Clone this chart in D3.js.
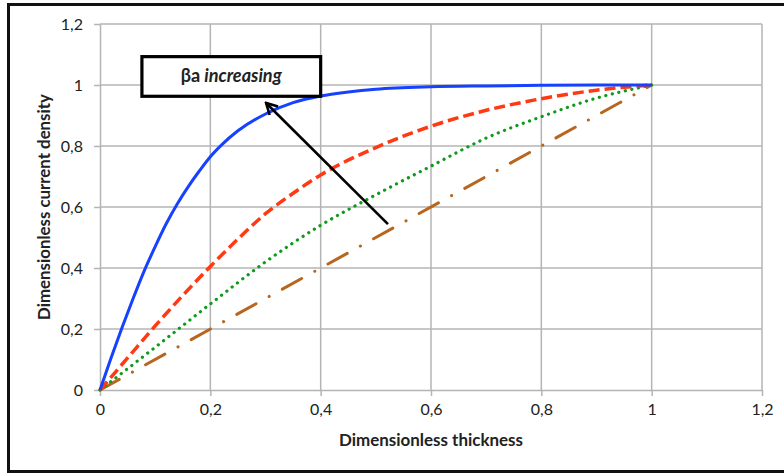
<!DOCTYPE html>
<html>
<head>
<meta charset="utf-8">
<script src="https://cdn.jsdelivr.net/npm/d3@7"></script>
<style>
  html, body { margin: 0; padding: 0; background: #fff; }
  svg { display: block; }
  text { font-family: Lato, "Open Sans", sans-serif; fill: #222; }
</style>
</head>
<body>
<svg id="chart" width="784" height="474"></svg>
<script>
// ---- data ----
const xTickValues = [0, 0.2, 0.4, 0.6, 0.8, 1, 1.2];
const xTickLabels = ["0", "0,2", "0,4", "0,6", "0,8", "1", "1,2"];
const yTickValues = [0, 0.2, 0.4, 0.6, 0.8, 1, 1.2];
const yTickLabels = ["0", "0,2", "0,4", "0,6", "0,8", "1", "1,2"];

const blueX = [0, 0.02, 0.04, 0.06, 0.08, 0.1, 0.12, 0.14, 0.16, 0.18, 0.2, 0.22, 0.25, 0.3, 0.35, 0.4, 0.45, 0.5, 0.6, 0.7, 0.8, 0.9, 1];
const blueY = [0, 0.105, 0.205, 0.3, 0.39, 0.47, 0.545, 0.61, 0.667, 0.718, 0.765, 0.803, 0.85, 0.905, 0.942, 0.964, 0.977, 0.986, 0.994, 0.997, 0.999, 1, 1];

const redX = [0, 0.05, 0.1, 0.15, 0.2, 0.25, 0.3, 0.35, 0.4, 0.5, 0.6, 0.7, 0.8, 0.9, 1];
const redY = [0, 0.105, 0.21, 0.31, 0.405, 0.495, 0.578, 0.645, 0.705, 0.795, 0.865, 0.917, 0.955, 0.983, 1];

const greenX = [0, 0.1, 0.2, 0.3, 0.4, 0.5, 0.6, 0.7, 0.8, 0.9, 1];
const greenY = [0, 0.14, 0.282, 0.42, 0.54, 0.64, 0.734, 0.826, 0.896, 0.957, 1];

const brownX = [0, 0.5, 1];
const brownY = [0, 0.5, 1];

const annotationText = ["βa", " increasing"];
const arrowFrom = [0.522, 0.544];
const arrowTo = [0.301, 0.941];
const boxCorners = [[0.076, 1.093], [0.4, 0.963]];

const xTitle = "Dimensionless thickness";
const yTitle = "Dimensionless current density";

// ---- layout ----
const W = 784, H = 474;
const margin = { left: 100, right: 22, top: 24, bottom: 84 };
const svg = d3.select("#chart");

const x = d3.scaleLinear().domain([0, 1.2]).range([margin.left, W - margin.right]);
const y = d3.scaleLinear().domain([0, 1.2]).range([H - margin.bottom, margin.top]);

// fit helper: scale font size so that text spans target width
function fitText(sel, target) {
  const node = sel.node();
  const fs = parseFloat(sel.style("font-size"));
  const w = node.getComputedTextLength();
  if (w > 0) sel.style("font-size", (fs * target / w).toFixed(2) + "px");
  return sel;
}

// outer frame
svg.append("rect")
  .attr("x", 8.5).attr("y", 4.5)
  .attr("width", 800).attr("height", 467)
  .attr("fill", "none").attr("stroke", "#111").attr("stroke-width", 3);

const gridColor = "#b4b4b4";

// gridlines
svg.append("g").selectAll("line").data(xTickValues.slice(1)).join("line")
  .attr("x1", d => x(d)).attr("x2", d => x(d))
  .attr("y1", y(0)).attr("y2", y(1.2))
  .attr("stroke", gridColor).attr("stroke-width", 1.5);
svg.append("g").selectAll("line").data(yTickValues.slice(1)).join("line")
  .attr("y1", d => y(d)).attr("y2", d => y(d))
  .attr("x1", x(0)).attr("x2", x(1.2))
  .attr("stroke", gridColor).attr("stroke-width", 1.5);

// axes
const xAxis = d3.axisBottom(x).tickValues(xTickValues)
  .tickFormat((d, i) => xTickLabels[i]).tickSize(6).tickSizeOuter(0).tickPadding(8);
const yAxis = d3.axisLeft(y).tickValues(yTickValues)
  .tickFormat((d, i) => yTickLabels[i]).tickSize(6).tickSizeOuter(0).tickPadding(11);

const gx = svg.append("g").attr("transform", `translate(0,${y(0)})`).call(xAxis);
const gy = svg.append("g").attr("transform", `translate(${x(0)},0)`).call(yAxis);
[gx, gy].forEach(g => {
  g.select(".domain").attr("stroke", gridColor).attr("stroke-width", 1.5);
  g.selectAll(".tick line").attr("stroke", gridColor).attr("stroke-width", 1.5);
  g.selectAll(".tick text").style("font-family", "Lato, sans-serif")
    .style("font-size", "16px").attr("fill", "#1a1a1a");
});
gy.selectAll(".tick text").attr("dy", "0.36em");

// lines
const line = d3.line().x(d => x(d[0])).y(d => y(d[1])).curve(d3.curveMonotoneX);
const zip = (a, b) => a.map((v, i) => [v, b[i]]);

svg.append("path").datum(zip(brownX, brownY)).attr("d", line)
  .attr("fill", "none").attr("stroke", "#b8661e").attr("stroke-width", 3)
  .attr("stroke-linecap", "round").attr("stroke-dasharray", "22,15,0.1,15");

svg.append("path").datum(zip(greenX, greenY)).attr("d", line)
  .attr("fill", "none").attr("stroke", "#0e9a1a").attr("stroke-width", 3.2)
  .attr("stroke-linecap", "round").attr("stroke-dasharray", "0.1,6.6");

svg.append("path").datum(zip(redX, redY)).attr("d", line)
  .attr("fill", "none").attr("stroke", "#ff3a12").attr("stroke-width", 3.5)
  .attr("stroke-dasharray", "11,5");

svg.append("path").datum(zip(blueX, blueY)).attr("d", line)
  .attr("fill", "none").attr("stroke", "#1541ff").attr("stroke-width", 3);

// arrow
const defs = svg.append("defs");
defs.append("marker").attr("id", "arrowhead")
  .attr("viewBox", "-14 -8 16 16").attr("refX", 0).attr("refY", 0)
  .attr("markerWidth", 16).attr("markerHeight", 16)
  .attr("markerUnits", "userSpaceOnUse").attr("orient", "auto")
  .append("path").attr("d", "M-11,-6 L0,0 L-11,6")
  .attr("fill", "none").attr("stroke", "#000").attr("stroke-width", 2.6);

svg.append("line")
  .attr("x1", x(arrowFrom[0])).attr("y1", y(arrowFrom[1]))
  .attr("x2", x(arrowTo[0])).attr("y2", y(arrowTo[1]))
  .attr("stroke", "#000").attr("stroke-width", 2.6)
  .attr("marker-end", "url(#arrowhead)");

// annotation box
const bx0 = x(boxCorners[0][0]), by0 = y(boxCorners[0][1]);
const bx1 = x(boxCorners[1][0]), by1 = y(boxCorners[1][1]);
svg.append("rect")
  .attr("x", bx0).attr("y", by0).attr("width", bx1 - bx0).attr("height", by1 - by0)
  .attr("fill", "#fff").attr("stroke", "#000").attr("stroke-width", 3.2);

const t = svg.append("text")
  .attr("x", (bx0 + bx1) / 2).attr("y", (by0 + by1) / 2 + 6)
  .attr("text-anchor", "middle")
  .style("font-size", "17px").style("font-weight", "bold").attr("fill", "#111");
t.append("tspan").text(annotationText[0]);
t.append("tspan").style("font-style", "italic").text(annotationText[1]);
fitText(t, 101);

// axis titles
const xt = svg.append("text")
  .attr("x", 431).attr("y", 446)
  .attr("text-anchor", "middle")
  .style("font-size", "16px").style("font-weight", "bold").attr("fill", "#111")
  .text(xTitle);
fitText(xt, 184);

const yt = svg.append("text")
  .attr("transform", `translate(50,207) rotate(-90)`)
  .attr("text-anchor", "middle")
  .style("font-size", "16px").style("font-weight", "bold").attr("fill", "#111")
  .text(yTitle);
fitText(yt, 226);
</script>
</body>
</html>
